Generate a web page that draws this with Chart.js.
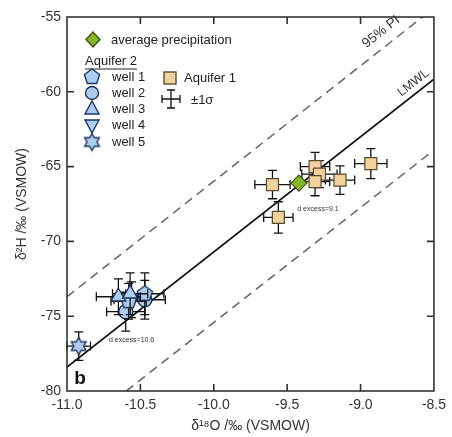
<!DOCTYPE html>
<html>
<head>
<meta charset="utf-8">
<script src="https://cdn.jsdelivr.net/npm/chart.js@4.4.0/dist/chart.umd.min.js"></script>
<style>
  html, body { margin: 0; padding: 0; background: #fff; }
  #wrap { width: 452px; height: 437px; }
</style>
</head>
<body>
<div id="wrap"><canvas id="isoChart"></canvas></div>
<script>
// Axis ticks
const xTicks = [-11.0, -10.5, -10.0, -9.5, -9.0, -8.5];
const yTicks = [-80, -75, -70, -65, -60, -55];

// LMWL and 95% prediction interval (end points)
const lineX = [-11.0, -8.5];
const lmwlY = [-78.4, -59.15];
const piUpperY = [-73.7, -54.4];
const piLowerY = [-83.1, -63.9];

// Average precipitation
const precipX = [-9.42];
const precipY = [-66.1];

// Aquifer 1
const aq1X = [-9.60, -9.56, -9.31, -9.28, -9.31, -9.14, -8.93];
const aq1Y = [-66.2, -68.4, -65.0, -65.5, -66.0, -65.9, -64.8];
const aq1ErrX = [0.12, 0.10, 0.10, 0.12, 0.10, 0.10, 0.11];
const aq1ErrY = [0.95, 1.05, 0.95, 0.9, 0.95, 0.95, 1.0];

// Aquifer 2 wells
const well1X = [-10.58, -10.47];
const well1Y = [-74.0, -73.5];
const well1ErrX = [0.12, 0.13];
const well1ErrY = [1.2, 1.4];
const well2X = [-10.60, -10.47];
const well2Y = [-74.7, -73.9];
const well2ErrX = [0.13, 0.14];
const well2ErrY = [1.3, 1.3];
const well3X = [-10.65, -10.57];
const well3Y = [-73.7, -73.5];
const well3ErrX = [0.15, 0.12];
const well3ErrY = [1.2, 1.4];
const well4X = [-10.56];
const well4Y = [-73.9];
const well4ErrX = [0.12];
const well4ErrY = [1.2];
const well5X = [-10.92];
const well5Y = [-77.0];
const well5ErrX = [0.08];
const well5ErrY = [0.95];

// Legend texts
const legendTop = ['average precipitation'];
const legendGroup = 'Aquifer 2';
const legendWells = ['well 1', 'well 2', 'well 3', 'well 4', 'well 5'];
const legendSide = ['Aquifer 1', '±1σ'];

const BLUE = '#aecdee';
const BLUE_EDGE = '#1d355e';
const TAN = '#f1d29d';
const TAN_EDGE = '#5a4a30';
const GREEN = '#86b52c';
const GREEN_EDGE = '#3c5512';
const INK = '#333';
const FONT = 'Arial, "Liberation Sans", Helvetica, sans-serif';

function pts(xs, ys) {
    return xs.map((x, i) => ({ x: x, y: ys[i] }));
}

// custom marker images
function makeShape(kind, r) {
    const size = Math.ceil(r * 2 + 4);
    const c = document.createElement('canvas');
    c.width = size; c.height = size;
    const g = c.getContext('2d');
    const cx = size / 2;
    g.beginPath();
    if (kind === 'pentagon') {
        for (let i = 0; i < 5; i++) {
            const a = -Math.PI / 2 + i * 2 * Math.PI / 5;
            g.lineTo(cx + r * Math.cos(a), cx + r * Math.sin(a));
        }
    } else {
        for (let i = 0; i < 12; i++) {
            const rr = i % 2 ? r * 0.58 : r;
            const a = -Math.PI / 2 + i * Math.PI / 6;
            g.lineTo(cx + rr * Math.cos(a), cx + rr * Math.sin(a));
        }
    }
    g.closePath();
    g.fillStyle = BLUE;
    g.fill();
    g.lineWidth = 1.4;
    g.strokeStyle = BLUE_EDGE;
    g.stroke();
    return c;
}
const pentagonImg = makeShape('pentagon', 8);
const starImg = makeShape('hexagram', 8.5);

function lineSet(ys, dashed) {
    return {
        type: 'line',
        data: pts(lineX, ys),
        borderColor: dashed ? '#666' : '#111',
        borderWidth: dashed ? 1.5 : 1.8,
        borderDash: dashed ? [9, 6] : [],
        pointRadius: 0,
        fill: false,
        order: 20
    };
}

function wellSet(xs, ys, ex, ey, style, radius, rotation, order) {
    return {
        type: 'scatter',
        data: pts(xs, ys),
        errX: ex,
        errY: ey,
        pointStyle: style,
        pointRadius: radius,
        rotation: rotation || 0,
        backgroundColor: BLUE,
        borderColor: BLUE_EDGE,
        borderWidth: 1.4,
        order: order
    };
}

// error bars under each dataset's markers
const errorBars = {
    id: 'errorBars',
    beforeDatasetDraw(chart, args) {
        const ds = chart.data.datasets[args.index];
        if (!ds.errX) return;
        const xs = chart.scales.x, ys = chart.scales.y;
        const ctx = chart.ctx;
        const cap = 4.5;
        ctx.save();
        ctx.strokeStyle = '#111';
        ctx.lineWidth = 1.3;
        ds.data.forEach((p, i) => {
            const px = xs.getPixelForValue(p.x);
            const py = ys.getPixelForValue(p.y);
            const x1 = xs.getPixelForValue(p.x - ds.errX[i]);
            const x2 = xs.getPixelForValue(p.x + ds.errX[i]);
            const y1 = ys.getPixelForValue(p.y - ds.errY[i]);
            const y2 = ys.getPixelForValue(p.y + ds.errY[i]);
            ctx.beginPath();
            ctx.moveTo(x1, py); ctx.lineTo(x2, py);
            ctx.moveTo(x1, py - cap); ctx.lineTo(x1, py + cap);
            ctx.moveTo(x2, py - cap); ctx.lineTo(x2, py + cap);
            ctx.moveTo(px, y1); ctx.lineTo(px, y2);
            ctx.moveTo(px - cap, y1); ctx.lineTo(px + cap, y1);
            ctx.moveTo(px - cap, y2); ctx.lineTo(px + cap, y2);
            ctx.stroke();
        });
        ctx.restore();
    }
};

// frame with inward ticks, labels and legend
const frame = {
    id: 'frame',
    afterDraw(chart) {
        const ctx = chart.ctx;
        const ca = chart.chartArea;
        const xs = chart.scales.x, ys = chart.scales.y;
        const tl = 7;
        ctx.save();
        ctx.strokeStyle = INK;
        ctx.lineWidth = 1.6;
        ctx.strokeRect(ca.left, ca.top, ca.right - ca.left, ca.bottom - ca.top);
        ctx.beginPath();
        xTicks.slice(1, -1).forEach(v => {
            const px = xs.getPixelForValue(v);
            ctx.moveTo(px, ca.bottom); ctx.lineTo(px, ca.bottom - tl);
            ctx.moveTo(px, ca.top); ctx.lineTo(px, ca.top + tl);
        });
        yTicks.slice(1, -1).forEach(v => {
            const py = ys.getPixelForValue(v);
            ctx.moveTo(ca.left, py); ctx.lineTo(ca.left + tl, py);
            ctx.moveTo(ca.right, py); ctx.lineTo(ca.right - tl, py);
        });
        ctx.stroke();

        // rotated line labels
        const ang = Math.atan2(
            ys.getPixelForValue(lmwlY[1]) - ys.getPixelForValue(lmwlY[0]),
            xs.getPixelForValue(lineX[1]) - xs.getPixelForValue(lineX[0]));
        function rotText(t, x, y, size) {
            ctx.save();
            ctx.translate(xs.getPixelForValue(x), ys.getPixelForValue(y));
            ctx.rotate(ang);
            ctx.font = size + 'px ' + FONT;
            ctx.fillStyle = INK;
            ctx.textAlign = 'center';
            ctx.textBaseline = 'middle';
            ctx.fillText(t, 0, 0);
            ctx.restore();
        }
        rotText('95% PI', -8.86, -56.0, 13.5);
        rotText('LMWL', -8.64, -59.4, 12.5);

        ctx.fillStyle = INK;
        ctx.textAlign = 'center';
        ctx.textBaseline = 'middle';
        ctx.font = '7px ' + FONT;
        ctx.fillText('d excess=10.6', xs.getPixelForValue(-10.56), ys.getPixelForValue(-76.6));
        ctx.fillText('d excess=9.1', xs.getPixelForValue(-9.29), ys.getPixelForValue(-67.85));
        ctx.font = 'bold 19px ' + FONT;
        ctx.fillStyle = '#111';
        ctx.fillText('b', ca.left + 13, ca.bottom - 12);

        // legend
        const lx = ca.left;
        ctx.font = '13px ' + FONT;
        ctx.textAlign = 'left';
        ctx.fillStyle = '#222';
        ctx.lineWidth = 1.4;
        // diamond
        ctx.beginPath();
        ctx.moveTo(lx + 26, 32); ctx.lineTo(lx + 33, 39.5); ctx.lineTo(lx + 26, 47); ctx.lineTo(lx + 19, 39.5);
        ctx.closePath();
        ctx.fillStyle = GREEN; ctx.fill();
        ctx.strokeStyle = GREEN_EDGE; ctx.stroke();
        ctx.fillStyle = '#222';
        ctx.fillText(legendTop[0], lx + 44, 40);

        ctx.fillText(legendGroup, lx + 18, 61);
        const gw = ctx.measureText(legendGroup).width;
        ctx.beginPath();
        ctx.lineWidth = 1;
        ctx.strokeStyle = '#222';
        ctx.moveTo(lx + 18, 69); ctx.lineTo(lx + 18 + gw, 69);
        ctx.stroke();

        const rowY = [77, 93, 109, 125, 142];
        const mx = lx + 25;
        ctx.lineWidth = 1.4;
        ctx.strokeStyle = BLUE_EDGE;
        ctx.fillStyle = BLUE;
        ctx.drawImage(pentagonImg, mx - pentagonImg.width / 2, rowY[0] - pentagonImg.height / 2);
        ctx.beginPath(); ctx.arc(mx, rowY[1], 6.5, 0, Math.PI * 2); ctx.fill(); ctx.stroke();
        ctx.beginPath();
        ctx.moveTo(mx, rowY[2] - 8); ctx.lineTo(mx + 7, rowY[2] + 5); ctx.lineTo(mx - 7, rowY[2] + 5); ctx.closePath();
        ctx.fill(); ctx.stroke();
        ctx.beginPath();
        ctx.moveTo(mx, rowY[3] + 8); ctx.lineTo(mx + 7, rowY[3] - 5); ctx.lineTo(mx - 7, rowY[3] - 5); ctx.closePath();
        ctx.fill(); ctx.stroke();
        ctx.drawImage(starImg, mx - starImg.width / 2, rowY[4] - starImg.height / 2);
        ctx.fillStyle = '#222';
        legendWells.forEach((t, i) => ctx.fillText(t, lx + 45, rowY[i] + 0.5));

        // Aquifer 1 and sigma
        ctx.fillStyle = TAN;
        ctx.strokeStyle = TAN_EDGE;
        ctx.fillRect(lx + 97, 72, 12, 12);
        ctx.strokeRect(lx + 97, 72, 12, 12);
        ctx.fillStyle = '#222';
        ctx.fillText(legendSide[0], lx + 117, 78);
        ctx.strokeStyle = '#111';
        ctx.lineWidth = 1.3;
        const ex = lx + 104, ey = 99;
        ctx.beginPath();
        ctx.moveTo(ex - 9, ey); ctx.lineTo(ex + 9, ey);
        ctx.moveTo(ex - 9, ey - 4); ctx.lineTo(ex - 9, ey + 4);
        ctx.moveTo(ex + 9, ey - 4); ctx.lineTo(ex + 9, ey + 4);
        ctx.moveTo(ex, ey - 9); ctx.lineTo(ex, ey + 9);
        ctx.moveTo(ex - 4, ey - 9); ctx.lineTo(ex + 4, ey - 9);
        ctx.moveTo(ex - 4, ey + 9); ctx.lineTo(ex + 4, ey + 9);
        ctx.stroke();
        ctx.fillText(legendSide[1], lx + 124, 100);
        ctx.restore();
    }
};

const ctx = document.getElementById('isoChart').getContext('2d');
new Chart(ctx, {
    type: 'scatter',
    data: {
        datasets: [
            lineSet(piUpperY, true),
            lineSet(piLowerY, true),
            lineSet(lmwlY, false),
            wellSet(well4X, well4Y, well4ErrX, well4ErrY, 'triangle', 8.5, 180, 9),
            wellSet(well2X, well2Y, well2ErrX, well2ErrY, 'circle', 7, 0, 8),
            wellSet(well1X, well1Y, well1ErrX, well1ErrY, pentagonImg, 8, 0, 7),
            wellSet(well3X, well3Y, well3ErrX, well3ErrY, 'triangle', 8.5, 0, 6),
            wellSet(well5X, well5Y, well5ErrX, well5ErrY, starImg, 8.5, 0, 5),
            {
                type: 'scatter',
                data: pts(aq1X, aq1Y),
                errX: aq1ErrX,
                errY: aq1ErrY,
                pointStyle: 'rect',
                pointRadius: 8.5,
                backgroundColor: TAN,
                borderColor: TAN_EDGE,
                borderWidth: 1.2,
                order: 4
            },
            {
                type: 'scatter',
                data: pts(precipX, precipY),
                pointStyle: 'rectRot',
                pointRadius: 8,
                backgroundColor: GREEN,
                borderColor: GREEN_EDGE,
                borderWidth: 1.2,
                order: 1
            }
        ]
    },
    options: {
        responsive: true,
        maintainAspectRatio: false,
        animation: false,
        layout: { padding: { top: 17, right: 11, left: 14, bottom: 0 } },
        plugins: {
            legend: { display: false },
            tooltip: { enabled: false }
        },
        scales: {
            x: {
                type: 'linear',
                min: -11,
                max: -8.5,
                afterBuildTicks: s => { s.ticks = xTicks.map(v => ({ value: v })); },
                afterFit: s => { s.height = 46; },
                grid: { display: false, drawTicks: false },
                border: { display: false },
                ticks: {
                    color: INK,
                    padding: 6,
                    font: { family: FONT, size: 14 },
                    callback: v => v.toFixed(1)
                },
                title: {
                    display: true,
                    text: 'δ¹⁸O /‰ (VSMOW)',
                    color: INK,
                    padding: { top: 0, bottom: 2 },
                    font: { family: FONT, size: 14 }
                }
            },
            y: {
                type: 'linear',
                min: -80,
                max: -55,
                afterBuildTicks: s => { s.ticks = yTicks.map(v => ({ value: v })); },
                afterFit: s => { s.width = 53; },
                grid: { display: false, drawTicks: false },
                border: { display: false },
                ticks: {
                    color: INK,
                    padding: 6,
                    font: { family: FONT, size: 14 },
                    callback: v => String(v)
                },
                title: {
                    display: true,
                    text: 'δ²H /‰ (VSMOW)',
                    color: INK,
                    padding: { top: 0, bottom: 0 },
                    font: { family: FONT, size: 14 }
                }
            }
        }
    },
    plugins: [errorBars, frame]
});
</script>
</body>
</html>
